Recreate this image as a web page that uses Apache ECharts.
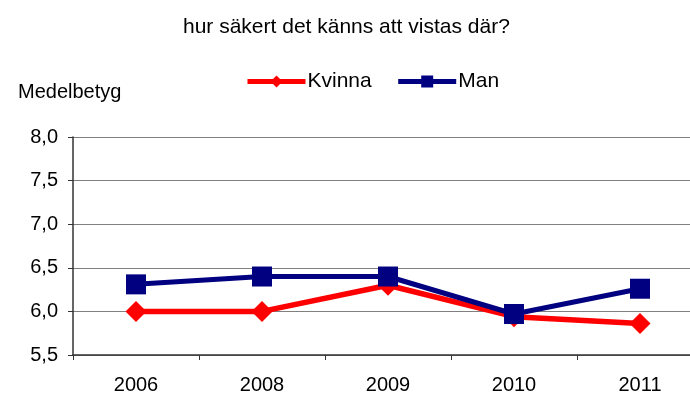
<!DOCTYPE html>
<html>
<head>
<meta charset="utf-8">
<script src="https://cdn.jsdelivr.net/npm/echarts@6/dist/echarts.min.js"></script>
<style>
  html, body { margin: 0; padding: 0; background: #fff; overflow: hidden; width: 690px; height: 396px; }
  /* the plot runs a little past the right edge of the page */
  #chart { width: 703px; height: 396px; }
</style>
</head>
<body>
<div id="chart"></div>
<script>
// Survey years and average ratings per group
const years = ['2006', '2008', '2009', '2010', '2011'];
const kvinna = [6.0, 6.0, 6.3, 5.94, 5.86];
const man = [6.31, 6.4, 6.4, 5.97, 6.26];
const yTicks = { min: 5.5, max: 8.0, step: 0.5 };

const FONT = '"Liberation Sans", Arial, sans-serif';
const chart = echarts.init(document.getElementById('chart'), null, { renderer: 'canvas' });

chart.setOption({
  animation: false,
  backgroundColor: '#ffffff',
  textStyle: { fontFamily: FONT },
  title: [
    {
      text: 'hur säkert det känns att vistas där?',
      left: 178,
      top: 12,
      textStyle: { fontFamily: FONT, fontSize: 21, fontWeight: 'normal', color: '#000' }
    },
    {
      text: 'Medelbetyg',
      left: 13,
      top: 77,
      textStyle: { fontFamily: FONT, fontSize: 20, fontWeight: 'normal', color: '#000' }
    }
  ],
  legend: {
    top: 66,
    left: 240,
    itemWidth: 58,
    itemHeight: 15,
    itemGap: 24,
    lineStyle: { width: 5 },
    textStyle: { fontFamily: FONT, fontSize: 21, color: '#000', padding: [0, 0, 0, -3] },
    data: ['Kvinna', 'Man']
  },
  grid: { left: 73, top: 137, right: 0, height: 218, containLabel: false },
  xAxis: {
    type: 'category',
    data: years,
    boundaryGap: true,
    axisLine: { lineStyle: { color: '#333', width: 1.5 } },
    axisTick: { show: true, length: 5, interval: 0, lineStyle: { color: '#333' } },
    axisLabel: { fontFamily: FONT, fontSize: 20, color: '#000', margin: 20 },
    splitLine: { show: false }
  },
  yAxis: {
    type: 'value',
    min: yTicks.min,
    max: yTicks.max,
    interval: yTicks.step,
    axisLine: { show: true, lineStyle: { color: '#333', width: 1.5 } },
    axisTick: { show: true, length: 5, inside: false, lineStyle: { color: '#333' } },
    axisLabel: {
      fontFamily: FONT, fontSize: 20, color: '#000', margin: 15,
      formatter: v => v.toFixed(1).replace('.', ',')
    },
    splitLine: { show: true, lineStyle: { color: '#808080', width: 1 } }
  },
  series: [
    {
      name: 'Kvinna',
      type: 'line',
      data: kvinna,
      color: '#ff0000',
      symbol: 'diamond',
      symbolSize: 21,
      lineStyle: { width: 5.5, color: '#ff0000' },
      itemStyle: { color: '#ff0000' },
      z: 2
    },
    {
      name: 'Man',
      type: 'line',
      data: man,
      color: '#000080',
      symbol: 'rect',
      symbolSize: 20,
      lineStyle: { width: 5, color: '#000080' },
      itemStyle: { color: '#000080' },
      z: 3
    }
  ]
});
</script>
</body>
</html>
